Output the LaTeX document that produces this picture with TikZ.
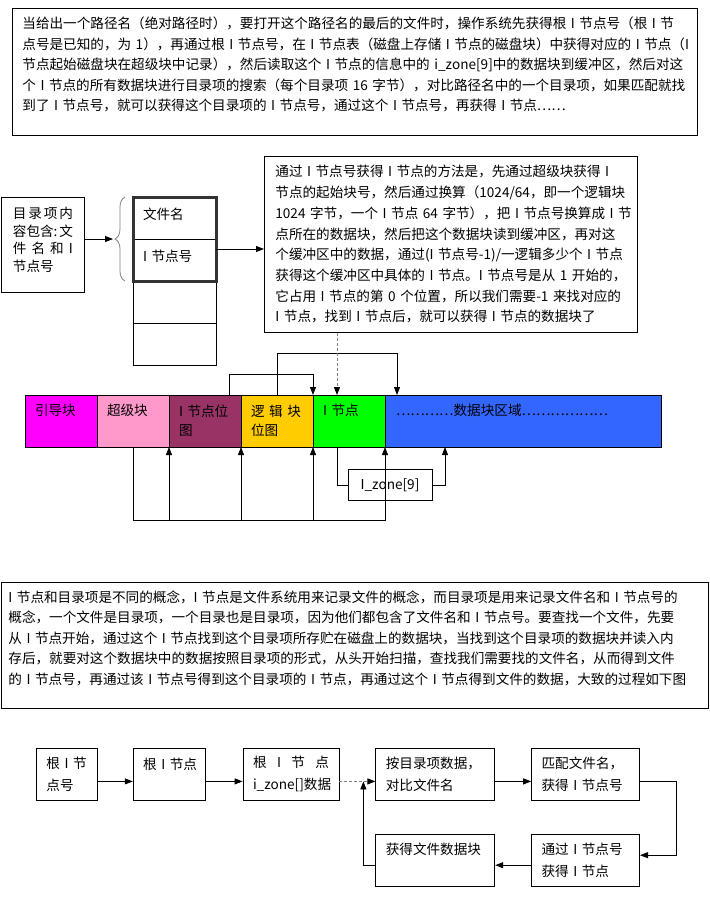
\documentclass[tikz,border=0pt]{standalone}
\usepackage{fontspec}
\setmainfont{Noto Sans CJK SC}
\usepackage{xcolor}
\usepackage{tikz}
\usetikzlibrary{arrows.meta, positioning, decorations.pathreplacing, calc}

\definecolor{bootfill}{HTML}{FF00FF}
\definecolor{superfill}{HTML}{FF99CC}
\definecolor{ibmapfill}{HTML}{993366}
\definecolor{lbmapfill}{HTML}{FFCC00}
\definecolor{inodefill}{HTML}{00FF00}
\definecolor{datafill}{HTML}{3366FF}

\begin{document}
\begin{tikzpicture}[
        x=1pt, y=-1pt,
        font=\fontsize{13.6}{20.5}\selectfont,
        note_box/.style={rectangle, draw=black, line width=0.8pt, anchor=north west,
                         align=left, inner ysep=0pt},
        row_block/.style={rectangle, draw=black, line width=0.8pt, outer sep=0pt,
                          minimum width=83pt, text width=63pt, inner xsep=10pt, inner ysep=0pt,
                          minimum height=42pt, text depth=8pt, align=left},
        seg_block/.style={rectangle, draw=black, line width=0.8pt, outer sep=0pt,
                          minimum width=72pt, text width=52pt, inner xsep=10pt, inner ysep=0pt,
                          minimum height=52pt, align=left, font=\fontsize{13.6}{19}\selectfont},
        flow_block/.style={rectangle, draw=black, line width=0.8pt, anchor=north west,
                           minimum width=#1, text width=#1-20pt, inner xsep=10pt, inner ysep=0pt,
                           minimum height=52pt, align=left, font=\fontsize{13.6}{22}\selectfont},
        one_line/.style={text depth=22pt},
        thick_frame/.style={draw=black!80, line width=3pt},
        brace_line/.style={draw=black!50, line width=0.8pt, decorate, decoration={brace, amplitude=10pt}},
        link/.style={-{Triangle[length=8pt, width=6pt]}, line width=0.8pt},
        plain_link/.style={line width=0.8pt},
        gray_link/.style={-{Triangle[length=8pt, width=6pt, color=black]}, draw=black!50,
                          line width=1pt, densely dashed}
    ]

    \useasboundingbox (0,0) rectangle (710,906);

    \node[note_box, minimum height=127pt, text width=665pt, inner xsep=10pt, text depth=98pt] (path_note) at (12,8)
        {当给出一个路径名（绝对路径时），要打开这个路径名的最后的文件时，操作系统先获得根~I~节点号（根~I~节\\
         点号是已知的，为~1），再通过根~I~节点号，在~I~节点表（磁盘上存储~I~节点的磁盘块）中获得对应的~I~节点（I\\
         节点起始磁盘块在超级块中记录），然后读取这个~I~节点的信息中的~i\_zone[9]中的数据块到缓冲区，然后对这\\
         个~I~节点的所有数据块进行目录项的搜索（每个目录项~16~字节），对比路径名中的一个目录项，如果匹配就找\\
         到了~I~节点号，就可以获得这个目录项的~I~节点号，通过这个~I~节点号，再获得~I~节点……};

    \node[note_box, minimum height=95pt, text width=60pt, inner xsep=11.5pt, text depth=64pt,
          font=\fontsize{13.6}{17.5}\selectfont] (dir_note) at (1,197)
        {目\hfill 录\hfill 项\hfill 内\\容包含:\hfill 文\\件\hfill 名\hfill 和\hfill I\\节点号};

    \node[row_block, anchor=north west] (name_row) at (133,197) {文件名};
    \node[row_block, below=0pt of name_row] (inode_row) {I~节点号};
    \node[row_block, below=0pt of inode_row] (blank_row_a) {};
    \node[row_block, below=0pt of blank_row_a] (blank_row_b) {};
    \draw[thick_frame] (name_row.north west) rectangle (inode_row.south east);
    \draw[brace_line] ([xshift=-8pt]inode_row.south west) -- ([xshift=-8pt]name_row.north west);
    \coordinate (brace_tip) at ([xshift=-20pt]name_row.south west);
    \draw[link] (dir_note.east |- brace_tip) -- (brace_tip);

    \node[note_box, minimum height=176pt, text width=351pt, inner xsep=11pt,
          font=\fontsize{13.6}{20.7}\selectfont] (inode_note) at (264,156)
        {通过~I~节点号获得~I~节点的方法是，先通过超级块获得~I\\
         节点的起始块号，然后通过换算（1024/64，即一个逻辑块\\
         1024~字节，一个~I~节点~64~字节），把~I~节点号换算成~I~节\\
         点所在的数据块，然后把这个数据块读到缓冲区，再对这\\
         个缓冲区中的数据，通过(I~节点号-1)/一逻辑多少个~I~节点\\
         获得这个缓冲区中具体的~I~节点。I~节点号是从~1~开始的，\\
         它占用~I~节点的第~0~个位置，所以我们需要-1~来找对应的\\
         I~节点，找到~I~节点后，就可以获得~I~节点的数据块了};
    \draw[link] ([yshift=11pt]inode_row.east) -- ([yshift=11pt]inode_row.east -| inode_note.west);

    \node[seg_block, one_line, fill=bootfill, anchor=north west] (boot_seg) at (25,395) {引导块};
    \node[seg_block, one_line, fill=superfill, right=0pt of boot_seg] (super_seg) {超级块};
    \node[seg_block, fill=ibmapfill, right=0pt of super_seg] (ibmap_seg) {I~节点位\\图};
    \node[seg_block, fill=lbmapfill, right=0pt of ibmap_seg] (lbmap_seg) {逻~辑~块\\位图};
    \node[seg_block, one_line, fill=inodefill, right=0pt of lbmap_seg] (inode_seg) {I~节点};
    \node[seg_block, one_line, fill=datafill, minimum width=276pt, text width=254pt, inner xsep=11pt,
          right=0pt of inode_seg] (data_seg) {…………数据块区域………………};

    \draw[link] ([xshift=24pt]ibmap_seg.north) -- ++(0,-21) -| (inode_seg.north west);
    \draw[link] (lbmap_seg.north) -- ++(0,-42) -| ([xshift=12pt]data_seg.north west);
    \draw[gray_link] ([xshift=-12pt]inode_seg.north |- inode_note.south) -- ([xshift=-12pt]inode_seg.north);

    \coordinate (bus_left) at ([yshift=-73pt]super_seg.south);
    \draw[link] (super_seg.south) -- (bus_left) -| (data_seg.south west);
    \foreach \seg in {ibmap_seg, lbmap_seg, inode_seg}
        \draw[link] (\seg.south west |- bus_left) -- (\seg.south west);

    \node[rectangle, draw=black, line width=0.8pt, minimum width=84pt, minimum height=31pt] (izone_box) at (390,485) {I\_zone[9]};
    \draw[plain_link] ([xshift=-12pt]inode_seg.south) |- (izone_box.west);
    \draw[link] (izone_box.east) -| ([xshift=60pt]data_seg.south west);

    \node[note_box, minimum height=126pt, text width=693pt, inner xsep=7pt, text depth=98pt] (concept_note) at (1,582)
        {I~节点和目录项是不同的概念，I~节点是文件系统用来记录文件的概念，而目录项是用来记录文件名和~I~节点号的\\
         概念，一个文件是目录项，一个目录也是目录项，因为他们都包含了文件名和~I~节点号。要查找一个文件，先要\\
         从~I~节点开始，通过这个~I~节点找到这个目录项所存贮在磁盘上的数据块，当找到这个目录项的数据块并读入内\\
         存后，就要对这个数据块中的数据按照目录项的形式，从头开始扫描，查找我们需要找的文件名，从而得到文件\\
         的~I~节点号，再通过该~I~节点号得到这个目录项的~I~节点，再通过这个~I~节点得到文件的数据，大致的过程如下图};

    \node[flow_block=61pt] (root_no) at (36,748) {根~I~节\\点号};
    \node[flow_block=72pt, one_line, right=35pt of root_no] (root_node) {根~I~节点};
    \node[flow_block=96pt, right=37pt of root_node] (root_zone) {根\hfill I\hfill 节\hfill 点\\i\_zone[]数据};
    \node[flow_block=119pt, right=36pt of root_zone] (match_dir) {按目录项数据，\\对比文件名};
    \node[flow_block=108pt, right=36pt of match_dir] (match_name) {匹配文件名，\\获得~I~节点号};
    \node[flow_block=108pt, below=33pt of match_name] (get_inode) {通过~I~节点号\\获得~I~节点};
    \node[flow_block=119pt, one_line, left=36pt of get_inode] (get_data) {获得文件数据块};

    \draw[link] ([yshift=-7pt]root_no.east) -- ([yshift=-7pt]root_node.west);
    \draw[link] ([yshift=-7pt]root_node.east) -- ([yshift=-7pt]root_zone.west);
    \draw[gray_link] ([yshift=-7pt]root_zone.east) -- ([yshift=-7pt]match_dir.west);
    \draw[link] ([yshift=-7pt]match_dir.east) -- ([yshift=-7pt]match_name.west);
    \draw[link] ([yshift=-7pt]match_name.east) -- ++(36,0) |- ([yshift=5pt]get_inode.east);
    \draw[link] ([yshift=-5pt]get_inode.west) -- ([yshift=-5pt]get_data.east);
    \coordinate (loop_in) at ([xshift=-12pt, yshift=-7pt]match_dir.west);
    \draw[link] ([yshift=-5pt]get_data.west) -| (loop_in);
\end{tikzpicture}
\end{document}
